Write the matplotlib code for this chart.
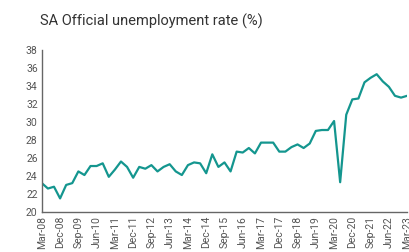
import matplotlib
matplotlib.use("Agg")
import matplotlib.pyplot as plt

quarters = ["Mar", "Jun", "Sep", "Dec"]
years = list(range(2008, 2024))
labels = [f"{q}-{str(y)[2:]}" for y in years for q in quarters][:61]

rate = [23.2, 22.6, 22.8, 21.5,
        23.0, 23.2, 24.5, 24.1,
        25.1, 25.1, 25.4, 23.9,
        24.7, 25.6, 25.0, 23.8,
        25.0, 24.8, 25.2, 24.5,
        25.0, 25.3, 24.5, 24.1,
        25.2, 25.5, 25.4, 24.3,
        26.4, 25.0, 25.5, 24.5,
        26.7, 26.6, 27.1, 26.5,
        27.7, 27.7, 27.7, 26.7,
        26.7, 27.2, 27.5, 27.1,
        27.6, 29.0, 29.1, 29.1,
        30.1, 23.3, 30.8, 32.5,
        32.6, 34.4, 34.9, 35.3,
        34.5, 33.9, 32.9, 32.7,
        32.9]

yticks = list(range(20, 39, 2))

plt.rcParams['font.family'] = ['Roboto', 'DejaVu Sans']
fig = plt.figure(figsize=(4.10, 2.52), dpi=100)
ax = fig.add_axes([0.102, 0.159, 0.891, 0.643])
x = list(range(len(rate)))
ax.plot(x, rate, color="#14968f", lw=1.6)
ax.set_xlim(0, len(rate) - 1)
ax.set_ylim(20, 38)
ax.set_yticks(yticks)
ax.set_xticks(x[::3])
ax.set_xticklabels(labels[::3], rotation=90)
ax.tick_params(axis='both', length=0, labelsize=7.5, colors="#555555", pad=3)
for s in ["top", "right"]:
    ax.spines[s].set_visible(False)
for s in ["left", "bottom"]:
    ax.spines[s].set_color("#666666")
    ax.spines[s].set_linewidth(1.0)
fig.text(0.097, 0.9, "SA Official unemployment rate (%)", fontsize=10.5, color="#333333")
fig.savefig("out.png", dpi=100)
